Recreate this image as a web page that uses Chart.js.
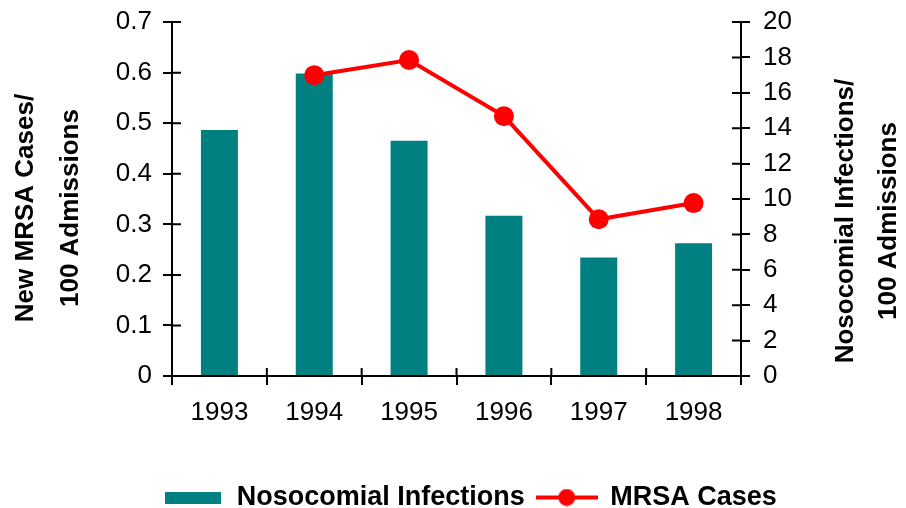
<!DOCTYPE html>
<html lang="en">
<head>
  <meta charset="UTF-8">
  <title>Nosocomial Infections and MRSA Cases</title>
  <script src="https://cdn.jsdelivr.net/npm/chart.js"></script>
  <style>
    html, body { margin: 0; padding: 0; background: #fff; overflow: hidden; }
    #wrap { width: 906px; height: 508px; }
  </style>
</head>
<body>
  <div id="wrap"><canvas id="chart"></canvas></div>

  <script>
    // data
    const years = ['1993', '1994', '1995', '1996', '1997', '1998'];
    const infections = [13.9, 17.1, 13.3, 9.05, 6.7, 7.5];      // per 100 admissions (right axis)
    const mrsa = [null, 0.595, 0.625, 0.514, 0.31, 0.342];      // per 100 admissions (left axis)
    const leftTitle = ['New MRSA Cases/', '100 Admissions'];
    const rightTitle = ['Nosocomial Infections/', '100 Admissions'];

    const FONT = '"Liberation Sans", Arial, Helvetica, sans-serif';
    const TEAL = '#008080';
    const RED = '#ff0000';

    // legend swatches
    function icon(w, h, draw) {
      const c = document.createElement('canvas');
      c.width = w; c.height = h;
      draw(c.getContext('2d'), w, h);
      return c;
    }
    const barIcon = icon(56, 12, (ctx, w, h) => {
      ctx.fillStyle = TEAL;
      ctx.fillRect(0, 0, w, h);
    });
    const lineIcon = icon(62, 18, (ctx, w, h) => {
      ctx.strokeStyle = RED;
      ctx.lineWidth = 4;
      ctx.beginPath(); ctx.moveTo(0, h / 2); ctx.lineTo(w, h / 2); ctx.stroke();
      ctx.fillStyle = RED;
      ctx.beginPath(); ctx.arc(w / 2, h / 2, 8.5, 0, Math.PI * 2); ctx.fill();
    });

    // axis titles read bottom-to-top on both sides
    const axisTitles = {
      id: 'axisTitles',
      afterDraw(chart) {
        const { ctx, chartArea: a } = chart;
        const mid = (a.top + a.bottom) / 2;
        ctx.save();
        ctx.font = 'bold 26px ' + FONT;
        ctx.fillStyle = '#000';
        ctx.textAlign = 'center';
        ctx.textBaseline = 'middle';
        const draw = (lines, x, yc, step) => {
          lines.forEach((t, i) => {
            ctx.save();
            ctx.translate(x + i * step, yc);
            ctx.rotate(-Math.PI / 2);
            ctx.fillText(t, 0, 0);
            ctx.restore();
          });
        };
        draw(leftTitle, a.left - 146, mid + 9, 45);
        draw(rightTitle, a.right + 105, mid + 22, 43);
        ctx.restore();
      }
    };

    // tick marks cross the axis lines: add the inner half
    const innerTicks = {
      id: 'innerTicks',
      afterDatasetsDraw(chart) {
        const { ctx, chartArea: a, scales: { y, y1 } } = chart;
        ctx.save();
        ctx.strokeStyle = '#000';
        ctx.lineWidth = 2;
        ctx.beginPath();
        y.ticks.forEach((t, i) => {
          const p = y.getPixelForTick(i);
          ctx.moveTo(a.left, p); ctx.lineTo(a.left + 9, p);
        });
        y1.ticks.forEach((t, i) => {
          const p = y1.getPixelForTick(i);
          ctx.moveTo(a.right, p); ctx.lineTo(a.right - 9, p);
        });
        for (let i = 0; i <= years.length; i++) {
          const p = a.left + i * a.width / years.length;
          ctx.moveTo(p, a.bottom); ctx.lineTo(p, a.bottom - 8);
        }
        ctx.stroke();
        ctx.restore();
      }
    };

    const axisGrid = { display: true, drawOnChartArea: false, color: '#000', lineWidth: 2, tickLength: 9 };
    const axisBorder = { color: '#000', width: 2 };
    const xFont = { size: 26, family: FONT };
    const yFont = { size: 26, family: FONT, lineHeight: 0.7 };

    new Chart(document.getElementById('chart'), {
      data: {
        labels: years,
        datasets: [
          {
            type: 'bar',
            label: 'Nosocomial Infections',
            data: infections,
            yAxisID: 'y1',
            backgroundColor: TEAL,
            barPercentage: 0.39,
            categoryPercentage: 1,
            order: 1
          },
          {
            type: 'line',
            label: 'MRSA Cases',
            data: mrsa,
            yAxisID: 'y',
            borderColor: RED,
            backgroundColor: RED,
            borderWidth: 4,
            pointRadius: 10,
            pointHoverRadius: 10,
            pointBorderWidth: 0,
            order: 0
          }
        ]
      },
      options: {
        responsive: true,
        maintainAspectRatio: false,
        animation: false,
        layout: { padding: { left: 106, right: 72, top: 22, bottom: -13 } },
        plugins: {
          tooltip: { enabled: false },
          legend: {
            position: 'bottom',
            labels: {
              usePointStyle: true,
              pointStyleWidth: 60,
              padding: 12,
              color: '#000',
              font: { size: 27, weight: 'bold', family: FONT },
              generateLabels(chart) {
                const items = Chart.defaults.plugins.legend.labels.generateLabels(chart);
                items.sort((p, q) => p.datasetIndex - q.datasetIndex);
                items.forEach(it => { it.pointStyle = it.datasetIndex === 0 ? barIcon : lineIcon; });
                return items;
              }
            }
          }
        },
        scales: {
          x: {
            offset: true,
            grid: { ...axisGrid, offset: true },
            border: axisBorder,
            ticks: { color: '#000', font: xFont, padding: 12 },
            afterFit(s) { s.height = 96; }
          },
          y: {
            position: 'left',
            min: 0,
            max: 0.7,
            grid: axisGrid,
            border: axisBorder,
            ticks: { stepSize: 0.1, color: '#000', font: yFont, padding: 11 },
            afterFit(s) { s.width = 66; }
          },
          y1: {
            position: 'right',
            min: 0,
            max: 20,
            grid: axisGrid,
            border: axisBorder,
            ticks: { stepSize: 2, color: '#000', font: yFont, padding: 13 },
            afterFit(s) { s.width = 93; }
          }
        }
      },
      plugins: [innerTicks, axisTitles]
    });
  </script>
</body>
</html>
